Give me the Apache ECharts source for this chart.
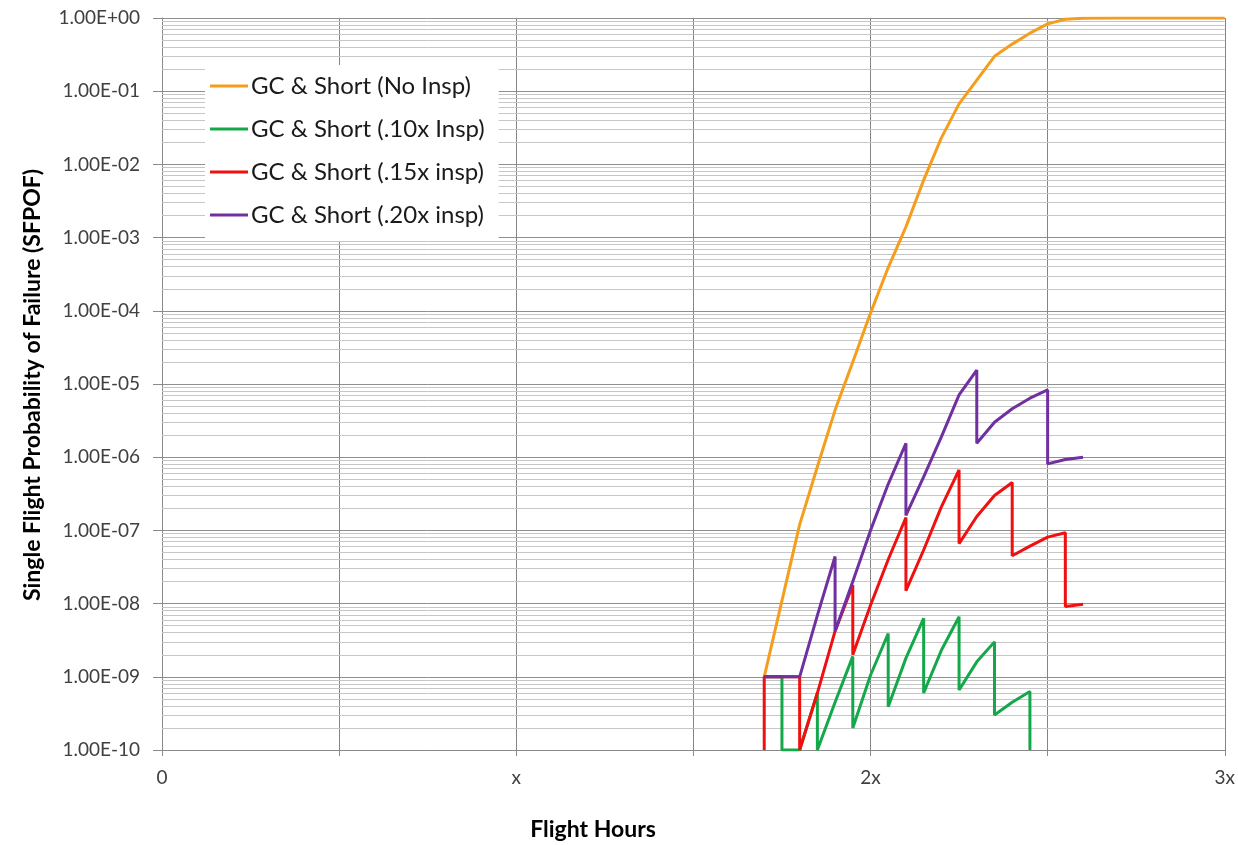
<!DOCTYPE html>
<html>
<head>
<meta charset="utf-8">
<script src="https://cdn.jsdelivr.net/npm/echarts@6/dist/echarts.min.js"></script>
<style>html,body{margin:0;padding:0;background:#fff;}#c{width:1238px;height:845px;}</style>
</head>
<body>
<div id="c"></div>
<script>
// ---- data (x in units of "x" flight hours, y = SFPOF) ----
const seriesNames = ['GC & Short (No Insp)', 'GC & Short (.10x Insp)', 'GC & Short (.15x insp)', 'GC & Short (.20x insp)'];
const xTickLabels = ['0', 'x', '2x', '3x'];
const yTickLabels = ['1.00E-10','1.00E-09','1.00E-08','1.00E-07','1.00E-06','1.00E-05','1.00E-04','1.00E-03','1.00E-02','1.00E-01','1.00E+00'];

const noInsp = [[1.70,1e-9],[1.80,1.2e-7],[1.85,7.4e-7],[1.90,4.4e-6],[1.95,2.0e-5],[2.00,9.3e-5],[2.05,3.9e-4],[2.10,1.4e-3],[2.15,6.1e-3],[2.20,2.3e-2],[2.25,6.7e-2],[2.30,0.142],[2.35,0.30],[2.40,0.44],[2.45,0.62],[2.50,0.83],[2.55,0.96],[2.60,0.995],[2.70,1],[2.80,1],[2.90,1],[3.00,1]];
const insp10 = [[1.70,1e-9],[1.75,1e-9],[1.75,1e-10],[1.80,1e-10],[1.85,6e-10],[1.85,1e-10],[1.90,4.5e-10],[1.95,1.9e-9],[1.95,2.0e-10],[2.00,1.05e-9],[2.05,3.9e-9],[2.05,3.9e-10],[2.10,1.8e-9],[2.15,6.3e-9],[2.15,6.0e-10],[2.20,2.3e-9],[2.25,6.6e-9],[2.25,6.6e-10],[2.30,1.6e-9],[2.35,3.0e-9],[2.35,3.0e-10],[2.40,4.5e-10],[2.45,6.3e-10],[2.45,1e-10]];
const insp15 = [[1.70,1e-10],[1.70,1e-9],[1.80,1e-9],[1.80,1e-10],[1.85,6e-10],[1.90,4.2e-9],[1.95,1.8e-8],[1.95,2.0e-9],[2.00,9.5e-9],[2.05,4e-8],[2.10,1.5e-7],[2.10,1.5e-8],[2.15,5.4e-8],[2.20,2.1e-7],[2.25,6.7e-7],[2.25,6.6e-8],[2.30,1.55e-7],[2.35,3.0e-7],[2.40,4.5e-7],[2.40,4.5e-8],[2.45,6.1e-8],[2.50,8.1e-8],[2.55,9.3e-8],[2.55,9.1e-9],[2.60,9.8e-9]];
const insp20 = [[1.70,1e-9],[1.80,1e-9],[1.85,6.9e-9],[1.90,4.4e-8],[1.90,4.2e-9],[1.95,2.0e-8],[2.00,1.0e-7],[2.05,4.3e-7],[2.10,1.55e-6],[2.10,1.6e-7],[2.15,5.4e-7],[2.20,1.9e-6],[2.25,7.1e-6],[2.30,1.55e-5],[2.30,1.55e-6],[2.35,3.0e-6],[2.40,4.6e-6],[2.45,6.4e-6],[2.50,8.3e-6],[2.50,8.1e-7],[2.55,9.3e-7],[2.60,1.0e-6]];

const colors = ['#F59E1E', '#14A84A', '#F01010', '#7030A0'];

// minor gridlines (2..9 x 10^n)
const minorLines = [];
for (let n = -10; n < 0; n++) {
  for (let k = 2; k <= 9; k++) minorLines.push({ yAxis: k * Math.pow(10, n) });
}

const chart = echarts.init(document.getElementById('c'), null, { renderer: 'canvas' });
const FONT = 'Lato';
chart.setOption({
  animation: false,
  backgroundColor: '#ffffff',
  grid: { left: 162, right: 9, top: 18, bottom: 95, containLabel: false },
  xAxis: {
    type: 'value', min: 0, max: 3, interval: 0.5,
    axisLine: { show: true, lineStyle: { color: '#8a8a8a', width: 1 } },
    axisTick: { show: true, length: 6, lineStyle: { color: '#8a8a8a' } },
    splitLine: { show: true, lineStyle: { color: '#858585', width: 1 } },
    axisLabel: {
      margin: 18, fontFamily: FONT, fontSize: 19, color: '#404040',
      formatter: function (v) { const i = Math.round(v); return Math.abs(v - i) < 1e-6 ? xTickLabels[i] : ''; }
    }
  },
  yAxis: {
    type: 'log', logBase: 10, min: 1e-10, max: 1, splitNumber: 10, interval: 1,
    axisLine: { show: true, lineStyle: { color: '#8a8a8a', width: 1 } },
    axisTick: { show: true, length: 9, lineStyle: { color: '#8a8a8a' } },
    splitLine: { show: true, lineStyle: { color: '#8f8f8f', width: 1 } },
    axisLabel: {
      margin: 22, fontFamily: FONT, fontSize: 19, color: '#404040',
      formatter: function (v) { const e = Math.round(Math.log10(v)); return yTickLabels[e + 10] || ''; }
    }
  },
  legend: {
    show: true, orient: 'vertical', left: 205, top: 65, z: 10,
    backgroundColor: '#ffffff', padding: [7, 14, 12, 5],
    icon: 'rect', itemWidth: 38, itemHeight: 3, itemGap: 15,
    data: seriesNames,
    textStyle: { fontFamily: FONT, fontSize: 24, color: '#1a1a1a', lineHeight: 28, padding: [0, 0, 0, -2] }
  },
  graphic: [
    { type: 'text', x: 593, y: 830, style: { text: 'Flight Hours', font: 'bold 23px ' + FONT, fill: '#000', textAlign: 'center', textVerticalAlign: 'middle' } },
    { type: 'text', x: 33, y: 385, rotation: Math.PI / 2, style: { text: 'Single Flight Probability of Failure (SFPOF)', font: 'bold 23px ' + FONT, fill: '#000', textAlign: 'center', textVerticalAlign: 'middle' } }
  ],
  series: [
    { name: '_minor', type: 'line', data: [], z: 1, silent: true,
      markLine: { silent: true, z: 1, precision: 14, symbol: ['none', 'none'], label: { show: false }, animation: false,
        lineStyle: { type: 'solid', color: '#c6c6c6', width: 1 }, data: minorLines } },
    { name: seriesNames[0], type: 'line', data: noInsp, symbol: 'none', z: 3, lineStyle: { width: 3, color: colors[0] }, itemStyle: { color: colors[0] } },
    { name: seriesNames[1], type: 'line', data: insp10, symbol: 'none', z: 4, lineStyle: { width: 3, color: colors[1] }, itemStyle: { color: colors[1] } },
    { name: seriesNames[2], type: 'line', data: insp15, symbol: 'none', z: 5, lineStyle: { width: 3, color: colors[2] }, itemStyle: { color: colors[2] } },
    { name: seriesNames[3], type: 'line', data: insp20, symbol: 'none', z: 6, lineStyle: { width: 3, color: colors[3] }, itemStyle: { color: colors[3] } }
  ]
});
</script>
</body>
</html>
